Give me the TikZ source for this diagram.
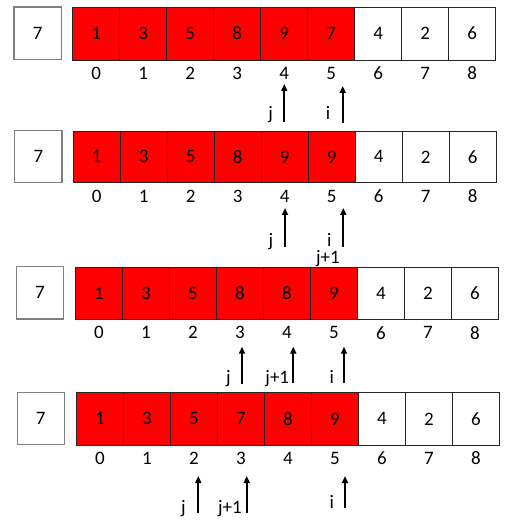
\documentclass[tikz,border=0pt]{standalone}
\usepackage{fontspec}
\setmainfont{Carlito}
\usetikzlibrary{arrows.meta}
\definecolor{cellred}{HTML}{FF0000}
\definecolor{keygray}{HTML}{7F7F7F}
\tikzset{
  txt/.style={font=\fontsize{19}{21}\selectfont},
  cell/.style={txt, draw=black!85, line width=0.9pt, minimum width=47pt, inner sep=0pt, outer sep=0pt, anchor=north west},
  keybox/.style={txt, draw=keygray, line width=1.5pt, fill=white, inner sep=0pt},
  idx/.style={txt, inner sep=0pt},
  lbl/.style={txt, anchor=base, inner sep=0pt},
  ptr/.style={line width=1.8pt, -{Triangle[width=6pt,length=7pt]}}
}
\newcommand\drawrow[9]{%
  \node[keybox, minimum width=#4pt, minimum height=#5pt] (#1k) at (#2pt,-#3pt) {7};
  \foreach \v [count=\i from 0] in {#9} {
    \pgfmathsetmacro\xx{#6+47*\i}
    \ifnum\i<6 \def\fc{cellred}\else\def\fc{white}\fi
    \node[cell, fill=\fc, minimum height={(#8-#7)*1pt}] (#1c\i) at (\xx pt,-#7pt) {\v};
    \node[idx] (#1i\i) at (\xx pt+23.5pt, -#8pt-13.5pt) {\i};
  }
}
\begin{document}
\begin{tikzpicture}[x=1pt,y=1pt]
\useasboundingbox (0,0) rectangle (514,-526);
% row 1
\drawrow{a}{37.75}{33.25}{47.5}{52.5}{72.7}{7}{60}{1,3,5,8,9,7,4,2,6}
\coordinate (ajb) at (284.3,-122); \coordinate (ajt) at (284.3,-84);
\coordinate (aib) at (342.7,-123); \coordinate (ait) at (342.7,-86);
\draw[ptr] (ajb) -- (ajt);
\draw[ptr] (aib) -- (ait);
\node[lbl] (aj) at (270.7,-120) {j};
\node[lbl] (ai) at (328,-120) {i};
% row 2
\drawrow{b}{38.35}{156.7}{47.3}{52}{73.3}{131}{182.7}{1,3,5,8,9,9,4,2,6}
\coordinate (bjb) at (285,-247); \coordinate (bjt) at (285,-208);
\coordinate (bib) at (343.3,-247); \coordinate (bit) at (343.3,-208);
\draw[ptr] (bjb) -- (bjt);
\draw[ptr] (bib) -- (bit);
\node[lbl] (bj) at (271,-246) {j};
\node[lbl] (bi) at (329.3,-246) {i};
\node[lbl] (bj1) at (328,-263) {j+1};
% row 3
\drawrow{c}{40}{292.85}{46.6}{52.3}{75.5}{267.3}{319.3}{1,3,5,8,8,9,4,2,6}
\coordinate (cjb) at (242,-384.3); \coordinate (cjt) at (242,-346.7);
\coordinate (ckb) at (293.3,-383); \coordinate (ckt) at (293.3,-346.7);
\coordinate (cib) at (344,-383); \coordinate (cit) at (344,-346.7);
\draw[ptr] (cjb) -- (cjt);
\draw[ptr] (ckb) -- (ckt);
\draw[ptr] (cib) -- (cit);
\node[lbl] (cj) at (228.3,-383.5) {j};
\node[lbl] (cj1) at (277.3,-383.5) {j+1};
\node[lbl] (ci) at (331.7,-383.5) {i};
% row 4
\drawrow{d}{40.8}{418.3}{47}{52}{76.5}{392.7}{445}{1,3,5,7,8,9,4,2,6}
\coordinate (djb) at (198.3,-513.3); \coordinate (djt) at (198.3,-476);
\coordinate (dkb) at (246.7,-513); \coordinate (dkt) at (246.7,-476);
\coordinate (dib) at (345,-508.3); \coordinate (dit) at (345,-476);
\draw[ptr] (djb) -- (djt);
\draw[ptr] (dkb) -- (dkt);
\draw[ptr] (dib) -- (dit);
\node[lbl] (dj) at (183.3,-513) {j};
\node[lbl] (dj1) at (230,-513) {j+1};
\node[lbl] (di) at (331.7,-508) {i};
\end{tikzpicture}
\end{document}
